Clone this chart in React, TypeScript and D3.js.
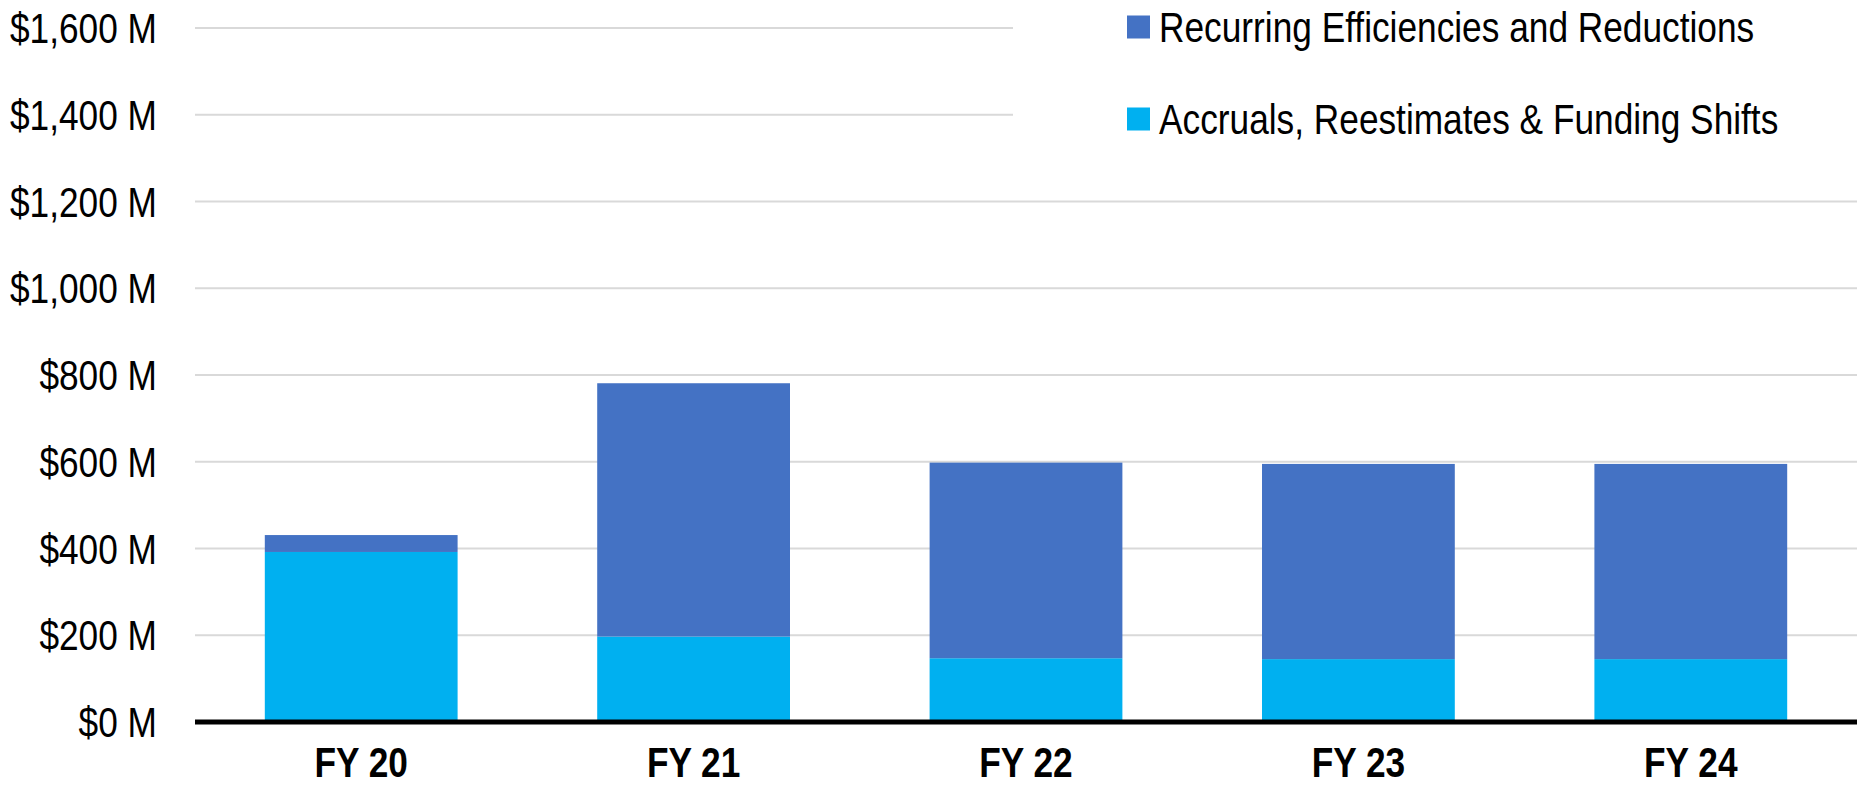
import React from "react";
import * as d3 from "d3";

const categories = ["FY 20", "FY 21", "FY 22", "FY 23", "FY 24"];
const accruals = [392, 197, 147, 145, 145];
const recurring = [39, 584, 451, 450, 450];
const yTicks = [0, 200, 400, 600, 800, 1000, 1200, 1400, 1600];
const seriesNames = ["Recurring Efficiencies and Reductions", "Accruals, Reestimates & Funding Shifts"];
const seriesColors = ["#4472C4", "#00B0F0"];

const W = 1857;
const H = 786;
const FONT = "'Liberation Sans', Arial, sans-serif";
const NARROW = 0.84;

function NText(props: { x: number; y: number; anchor?: string; bold?: boolean; size?: number; children: React.ReactNode }) {
  const { x, y, anchor = "start", bold = false, size = 42, children } = props;
  return (
    <text
      transform={`translate(${x},${y}) scale(${NARROW},1)`}
      textAnchor={anchor}
      fontFamily={FONT}
      fontWeight={bold ? "bold" : "normal"}
      fontSize={size}
      fill="#000"
    >
      {children}
    </text>
  );
}

export default function App() {
  const left = 195;
  const right = W;
  const x = d3.scaleBand<string>().domain(categories).range([left, right]).paddingInner(0.42).paddingOuter(0.21);
  const y = d3.scaleLinear().domain([0, 1600]).range([722, 28]);
  const fmt = d3.format(",");

  const rows = categories.map((c, i) => ({ cat: c, accruals: accruals[i], recurring: recurring[i] }));
  const stack = d3.stack<any>().keys(["accruals", "recurring"])(rows);
  const colorFor: Record<string, string> = { accruals: seriesColors[1], recurring: seriesColors[0] };

  const legendX = 1127;
  const legendYs = [27, 119];
  const legendBottom = 140;

  return (
    <svg width={W} height={H} style={{ position: "absolute", left: 0, top: 0, background: "#fff" }}>
      {yTicks.filter((t) => t > 0).map((t) => (
        <line key={"g" + t} x1={left} x2={y(t) < legendBottom ? 1013 : right} y1={y(t)} y2={y(t)} stroke="#d9d9d9" strokeWidth={2} />
      ))}
      {yTicks.map((t) => (
        <NText key={"t" + t} x={157} y={y(t) + 15} anchor="end">
          {`$${fmt(t)} M`}
        </NText>
      ))}
      {stack.map((s) =>
        s.map((d, i) => (
          <rect
            key={s.key + i}
            x={x(categories[i])}
            width={x.bandwidth()}
            y={y(d[1])}
            height={y(d[0]) - y(d[1])}
            fill={colorFor[s.key]}
          />
        ))
      )}
      <line x1={left} x2={right} y1={y(0)} y2={y(0)} stroke="#000" strokeWidth={5} />
      {categories.map((c) => (
        <NText key={"x" + c} x={(x(c) as number) + x.bandwidth() / 2} y={777} anchor="middle" bold>
          {c}
        </NText>
      ))}
      {seriesNames.map((n, i) => (
        <g key={n}>
          <rect x={legendX} y={legendYs[i] - 11.5} width={23} height={23} fill={seriesColors[i]} />
          <NText x={legendX + 32} y={legendYs[i] + 15}>
            {n}
          </NText>
        </g>
      ))}
    </svg>
  );
}
